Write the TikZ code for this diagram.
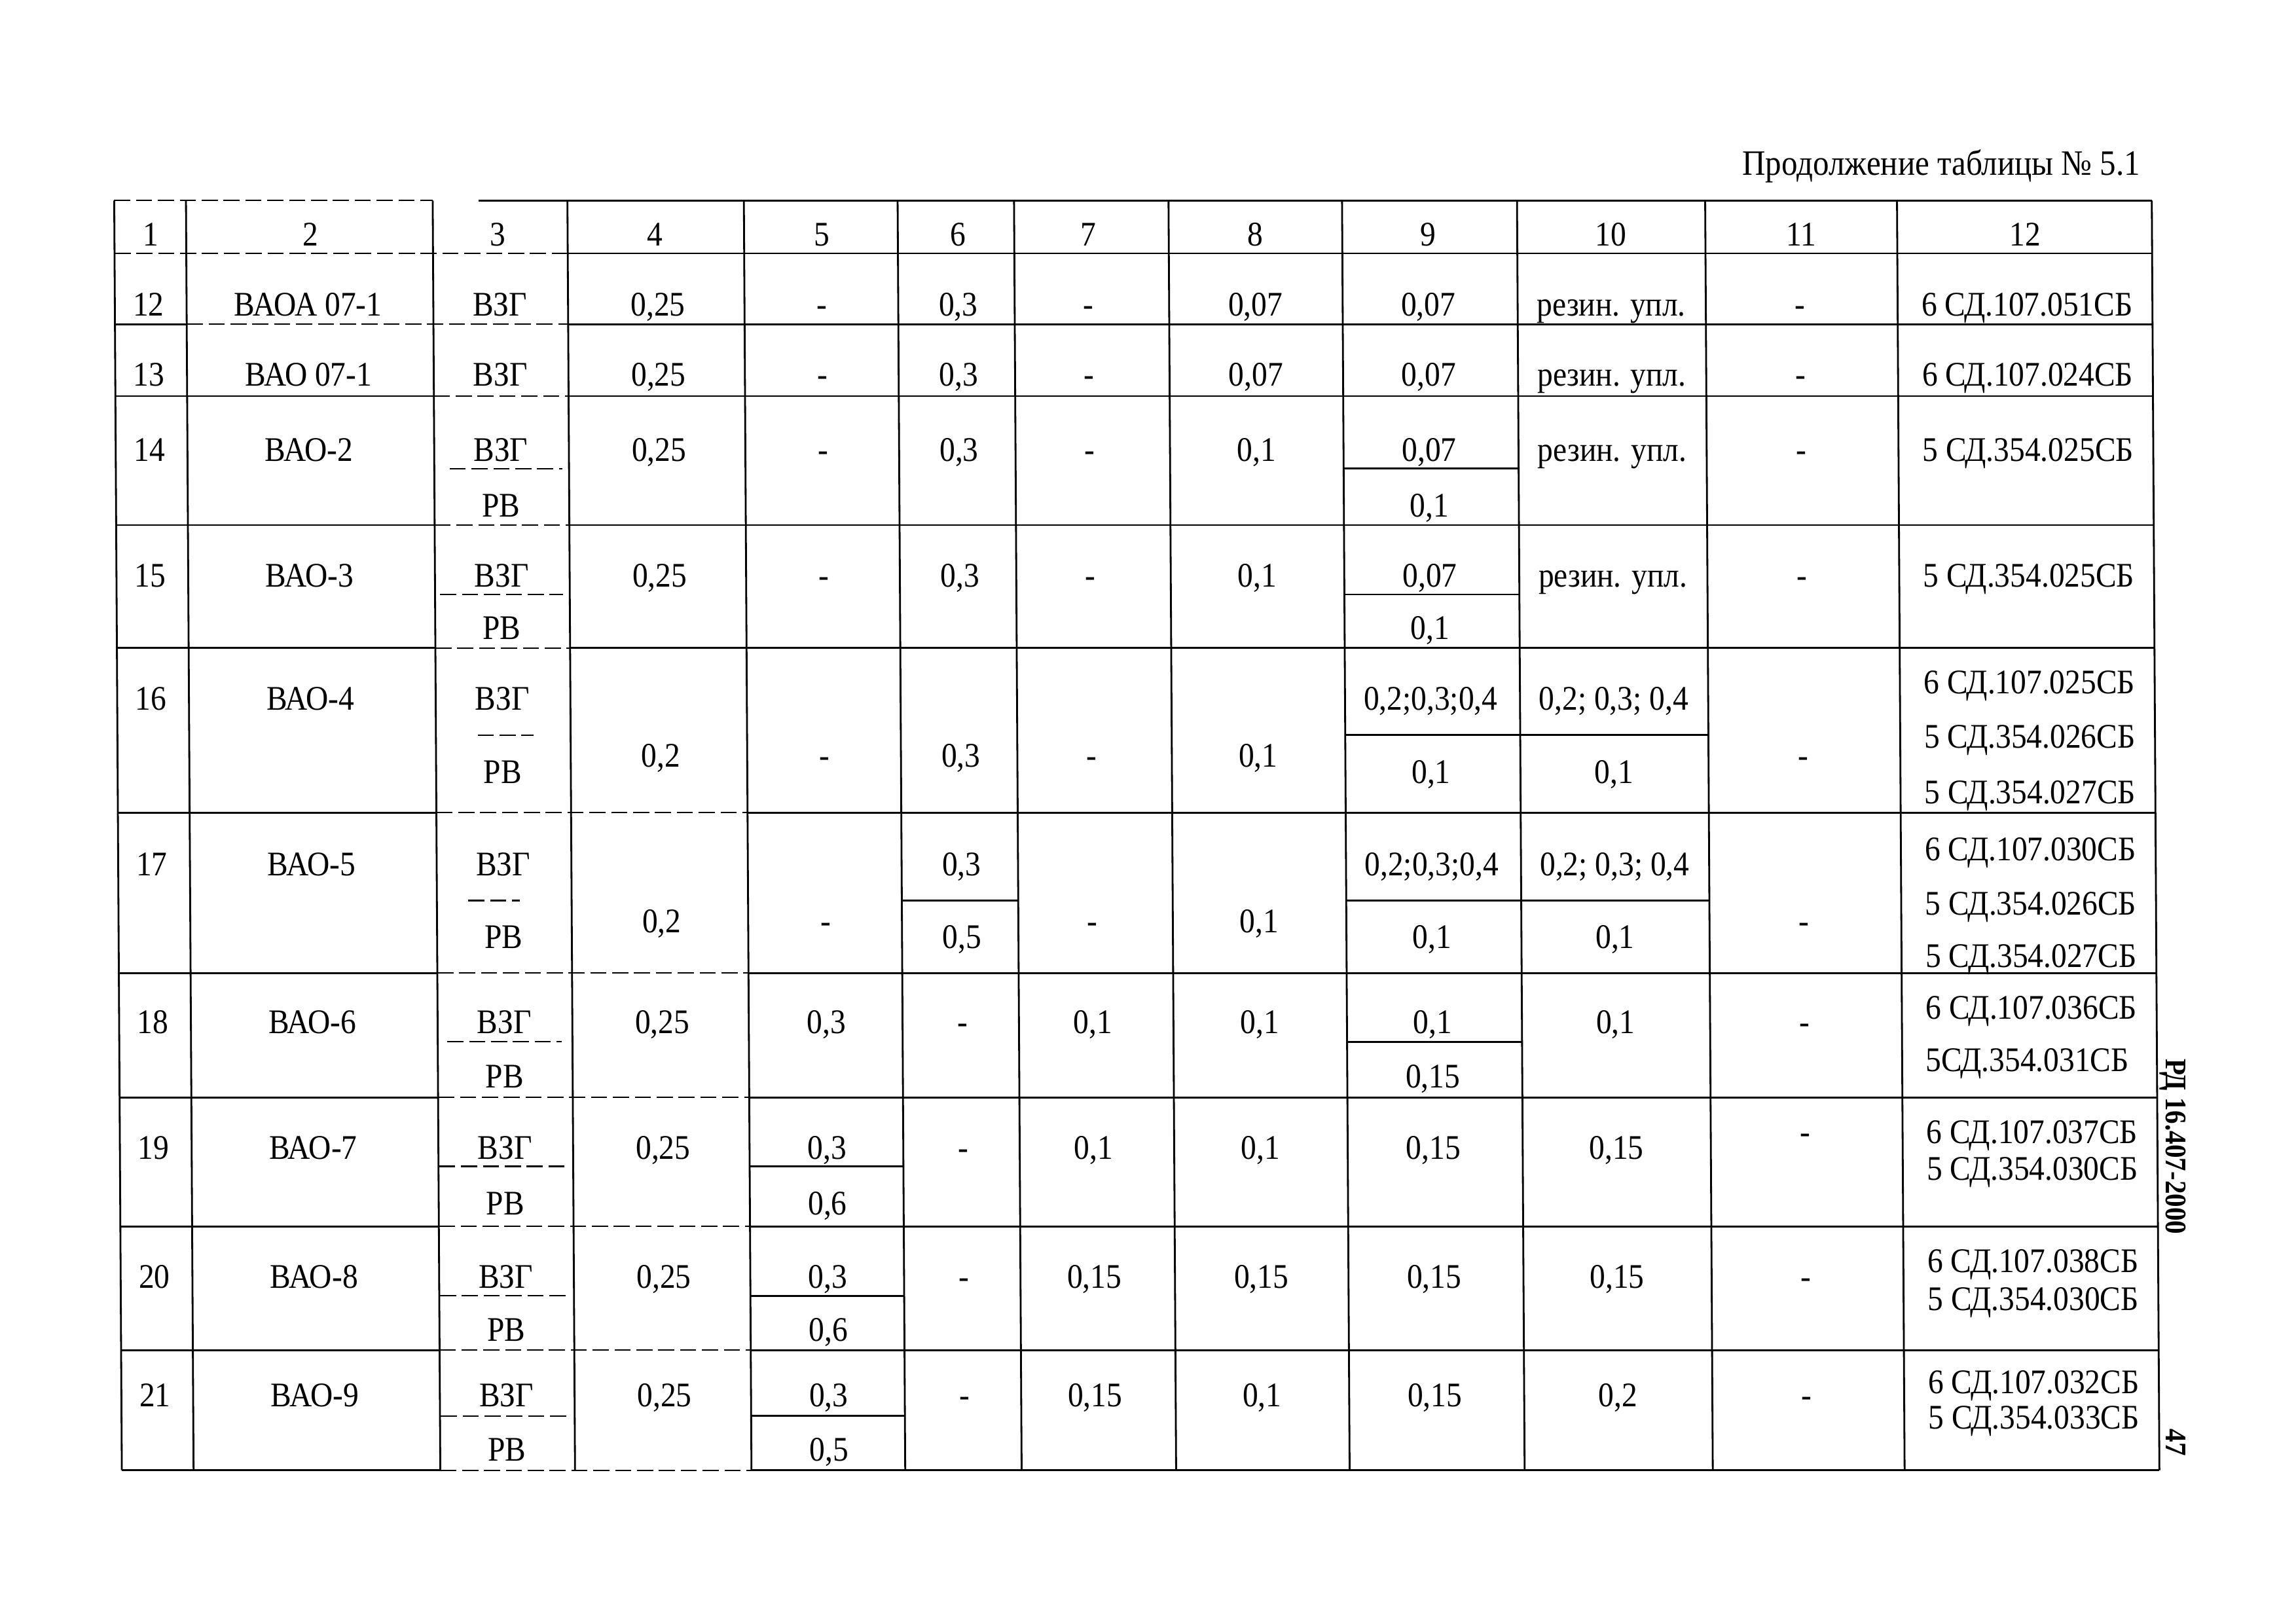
\documentclass[tikz,border=0pt]{standalone}
\usepackage{fontspec}
\setmainfont{Liberation Serif}[FakeStretch=0.9]
\usetikzlibrary{positioning}
\tikzstyle{txt} = [inner sep=0pt, text height=9.9pt, text depth=0pt,
    font=\fontsize{15}{17}\selectfont]
\tikzstyle{rule} = [line width=0.8pt]
\tikzstyle{brokenrule} = [line width=0.6pt, dash pattern=on 7pt off 2.5pt]

\begin{document}
\begin{tikzpicture}[x=0.22366mm, y=-0.22366mm]
    % page size of the scan
    \useasboundingbox (0,0) rectangle (1568,1108);

    % heading and margin texts
    \node [txt, anchor=east, font=\fontsize{15.5}{17}\selectfont] (title) at (1462,112) {Продолжение таблицы № 5.1};
    \node [txt, font=\bfseries\fontsize{13}{15}\selectfont, rotate=-90] (code) at (1487,783) {РД 16.407-2000};
    \node [txt, font=\bfseries\fontsize{13}{15}\selectfont, rotate=-90] (page) at (1487,985) {47};

    % the table itself is slightly skewed in the scan
    \begin{scope}[cm={1,0,-0.006,1,(-0.822,0)}]
    % column rules
    \foreach \x in {78,127,295.5,387.5,508,613,692.5,798,916.5,1036,1164.5,1295.5,1469.5}
        \draw [rule] (\x,137) -- (\x,1004);

    % row rules
    \draw [brokenrule] (78,137) -- (295.5,137);
    \draw [rule] (327,137) -- (1469.5,137);
    \draw [brokenrule] (78,173) -- (387.5,173);
    \draw [rule] (387.5,173) -- (1469.5,173);
    \draw [rule] (78,221.5) -- (127,221.5);
    \draw [brokenrule] (127,221.5) -- (387.5,221.5);
    \draw [rule] (387.5,221.5) -- (1469.5,221.5);
    \foreach \y in {270.5,358.6,442.5} {
        \draw [rule] (78,\y) -- (295.5,\y);
        \draw [brokenrule] (295.5,\y) -- (387.5,\y);
        \draw [rule] (387.5,\y) -- (1469.5,\y);
    }
    \foreach \y in {555,664.5,749.5,837.5,922,1004} {
        \draw [rule] (78,\y) -- (295.5,\y);
        \draw [brokenrule] (295.5,\y) -- (508,\y);
        \draw [rule] (508,\y) -- (1469.5,\y);
    }

    % split cells (ВЗГ over РВ)
    \draw [brokenrule] (306,320) -- (383,320);
    \draw [rule] (916.5,320) -- (1036,320);
    \draw [brokenrule] (299,406) -- (383,406);
    \draw [rule] (916.5,406) -- (1036,406);
    \draw [brokenrule] (324,502) -- (362,502);
    \draw [rule] (916.5,502) -- (1164.5,502);
    \draw [brokenrule] (317,615) -- (352,615);
    \draw [rule] (613,615) -- (692.5,615);
    \draw [rule] (916.5,615) -- (1164.5,615);
    \draw [brokenrule] (302,711.5) -- (380,711.5);
    \draw [rule] (916.5,711.5) -- (1036,711.5);
    \foreach \y in {796.5,885,967} {
        \draw [brokenrule] (296,\y) -- (384,\y);
        \draw [rule] (508,\y) -- (613,\y);
    }

    % column numbers
    \foreach \x [count=\i] in {103,212,340,447,561,654,743,857,975,1100,1230,1383}
        \node [txt] (h\i) at (\x,160) {\i};

    % rows 12 and 13
    \foreach \x/\t [count=\i] in {101/12, 210/{ВАОА 07-1}, 341/ВЗГ, 449/{0,25}, 561/-, 654/{0,3},
        743/-, 857/{0,07}, 975/{0,07}, 1100/{резин. упл.}, 1229/-, 1384/{6 СД.107.051СБ}}
        \node [txt] (r12c\i) at (\x,208) {\t};
    \foreach \x/\t [count=\i] in {101/13, 210/{ВАО 07-1}, 341/ВЗГ, 449/{0,25}, 561/-, 654/{0,3},
        743/-, 857/{0,07}, 975/{0,07}, 1100/{резин. упл.}, 1229/-, 1384/{6 СД.107.024СБ}}
        \node [txt] (r13c\i) at (\x,256) {\t};

    % rows 14 and 15
    \foreach \x/\t [count=\i] in {101/14, 210/{ВАО-2}, 341/ВЗГ, 449/{0,25}, 561/-, 654/{0,3},
        743/-, 857/{0,1}, 975/{0,07}, 1100/{резин. упл.}, 1229/-, 1384/{5 СД.354.025СБ}}
        \node [txt] (r14c\i) at (\x,307) {\t};
    \node [txt] (r14c3b) at (341,345) {РВ};
    \node [txt] (r14c9b) at (975,345) {0,1};
    \foreach \x/\t [count=\i] in {101/15, 210/{ВАО-3}, 341/ВЗГ, 449/{0,25}, 561/-, 654/{0,3},
        743/-, 857/{0,1}, 975/{0,07}, 1100/{резин. упл.}, 1229/-, 1384/{5 СД.354.025СБ}}
        \node [txt] (r15c\i) at (\x,393) {\t};
    \node [txt] (r15c3b) at (341,429) {РВ};
    \node [txt] (r15c9b) at (975,429) {0,1};

    % row 16
    \node [txt] (r16c1) at (101,477) {16};
    \node [txt] (r16c2) at (210,477) {ВАО-4};
    \node [txt] (r16c3) at (341,477) {ВЗГ};
    \node [txt] (r16c3b) at (341,527) {РВ};
    \node [txt] (r16c4) at (449,516) {0,2};
    \node [txt] (r16c5) at (561,516) {-};
    \node [txt] (r16c6) at (654,516) {0,3};
    \node [txt] (r16c7) at (743,516) {-};
    \node [txt] (r16c8) at (857,516) {0,1};
    \node [txt] (r16c9) at (975,477) {0,2;0,3;0,4};
    \node [txt] (r16c9b) at (975,527) {0,1};
    \node [txt] (r16c10) at (1100,477) {0,2; 0,3; 0,4};
    \node [txt] (r16c10b) at (1100,527) {0,1};
    \node [txt] (r16c11) at (1229,516) {-};
    \node [txt] (r16c12) at (1384,466) {6 СД.107.025СБ};
    \node [txt] (r16c12b) at (1384,503) {5 СД.354.026СБ};
    \node [txt] (r16c12c) at (1384,541) {5 СД.354.027СБ};

    % row 17
    \node [txt] (r17c1) at (101,590) {17};
    \node [txt] (r17c2) at (210,590) {ВАО-5};
    \node [txt] (r17c3) at (341,590) {ВЗГ};
    \node [txt] (r17c3b) at (341,640) {РВ};
    \node [txt] (r17c4) at (449,629) {0,2};
    \node [txt] (r17c5) at (561,629) {-};
    \node [txt] (r17c6) at (654,590) {0,3};
    \node [txt] (r17c6b) at (654,640) {0,5};
    \node [txt] (r17c7) at (743,629) {-};
    \node [txt] (r17c8) at (857,629) {0,1};
    \node [txt] (r17c9) at (975,590) {0,2;0,3;0,4};
    \node [txt] (r17c9b) at (975,640) {0,1};
    \node [txt] (r17c10) at (1100,590) {0,2; 0,3; 0,4};
    \node [txt] (r17c10b) at (1100,640) {0,1};
    \node [txt] (r17c11) at (1229,629) {-};
    \node [txt] (r17c12) at (1384,580) {6 СД.107.030СБ};
    \node [txt] (r17c12b) at (1384,617) {5 СД.354.026СБ};
    \node [txt] (r17c12c) at (1384,653) {5 СД.354.027СБ};

    % row 18
    \foreach \x/\t [count=\i] in {101/18, 210/{ВАО-6}, 341/ВЗГ, 449/{0,25}, 561/{0,3}, 654/-,
        743/{0,1}, 857/{0,1}, 975/{0,1}, 1100/{0,1}, 1229/-}
        \node [txt] (r18c\i) at (\x,698) {\t};
    \node [txt] (r18c3b) at (341,735) {РВ};
    \node [txt] (r18c9b) at (975,735) {0,15};
    \node [txt] (r18c12) at (1384,688) {6 СД.107.036СБ};
    \node [txt] (r18c12b) at (1381,724) {5СД.354.031СБ};

    % rows 19 to 21
    \foreach \x/\t [count=\i] in {101/19, 210/{ВАО-7}, 341/ВЗГ, 449/{0,25}, 561/{0,3}, 654/-,
        743/{0,1}, 857/{0,1}, 975/{0,15}, 1100/{0,15}}
        \node [txt] (r19c\i) at (\x,784) {\t};
    \node [txt] (r19c11) at (1229,773) {-};
    \node [txt] (r19c3b) at (341,822) {РВ};
    \node [txt] (r19c5b) at (561,822) {0,6};
    \node [txt] (r19c12) at (1384,773) {6 СД.107.037СБ};
    \node [txt] (r19c12b) at (1384,798) {5 СД.354.030СБ};

    \foreach \x/\t [count=\i] in {101/20, 210/{ВАО-8}, 341/ВЗГ, 449/{0,25}, 561/{0,3}, 654/-,
        743/{0,15}, 857/{0,15}, 975/{0,15}, 1100/{0,15}, 1229/-}
        \node [txt] (r20c\i) at (\x,872) {\t};
    \node [txt] (r20c3b) at (341,908) {РВ};
    \node [txt] (r20c5b) at (561,908) {0,6};
    \node [txt] (r20c12) at (1384,861) {6 СД.107.038СБ};
    \node [txt] (r20c12b) at (1384,887) {5 СД.354.030СБ};

    \foreach \x/\t [count=\i] in {101/21, 210/{ВАО-9}, 341/ВЗГ, 449/{0,25}, 561/{0,3}, 654/-,
        743/{0,15}, 857/{0,1}, 975/{0,15}, 1100/{0,2}, 1229/-}
        \node [txt] (r21c\i) at (\x,953) {\t};
    \node [txt] (r21c3b) at (341,990) {РВ};
    \node [txt] (r21c5b) at (561,990) {0,5};
    \node [txt] (r21c12) at (1384,944) {6 СД.107.032СБ};
    \node [txt] (r21c12b) at (1384,968) {5 СД.354.033СБ};
    \end{scope}
\end{tikzpicture}
\end{document}
